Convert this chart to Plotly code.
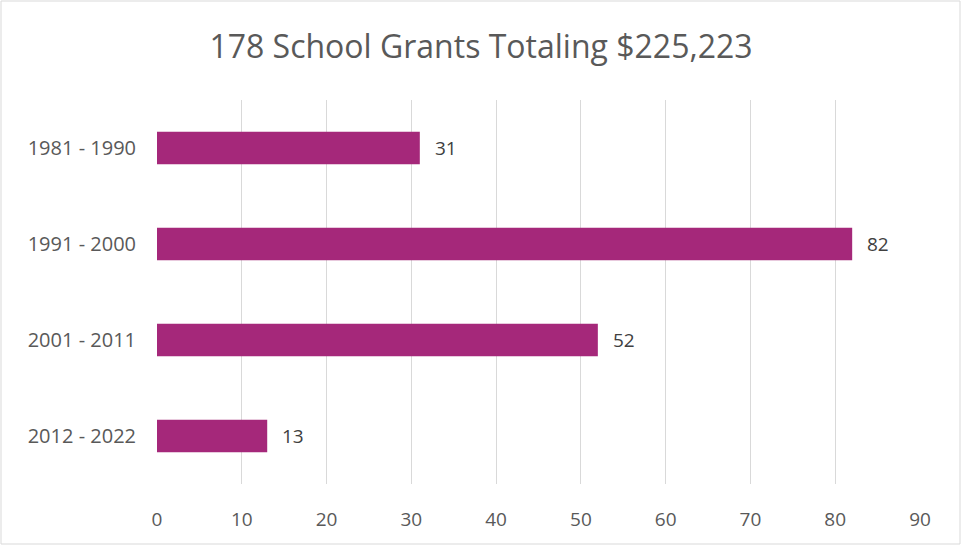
import plotly.graph_objects as go

categories = ["1981 - 1990", "1991 - 2000", "2001 - 2011", "2012 - 2022"]
grants = [31, 82, 52, 13]
x_ticks = [0, 10, 20, 30, 40, 50, 60, 70, 80, 90]
title_text = "178 School Grants Totaling $225,223"

BAR_COLOR = "#A5287A"
FONT = "Open Sans"

fig = go.Figure()
fig.add_trace(go.Bar(
    x=grants, y=categories, orientation="h",
    marker=dict(color=BAR_COLOR, line=dict(width=0)),
    width=0.34, hoverinfo="skip",
))

for c, v in zip(categories, grants):
    fig.add_annotation(x=v, y=c, text=str(v), showarrow=False,
                       xanchor="left", xshift=13,
                       font=dict(family=FONT, size=19, color="#404040"))

L, R, T, B = 157, 42, 100, 61
W, H = 962, 545
pw, ph = W - L - R, H - T - B
fig.add_shape(type="rect", xref="paper", yref="paper",
              x0=(1 - L) / pw, x1=(W - 2 - L) / pw,
              y0=-(B - 1) / ph, y1=(ph + T - 1) / ph,
              line=dict(color="#D9D9D9", width=1), fillcolor="rgba(0,0,0,0)", layer="below")

fig.update_layout(
    width=W, height=H,
    margin=dict(l=L, r=R, t=T, b=B),
    paper_bgcolor="white", plot_bgcolor="white",
    showlegend=False,
    title=dict(text=title_text, x=0.5, xref="container", xanchor="center",
               y=1 - 47 / H, yref="container", yanchor="middle",
               font=dict(family=FONT, size=32, color="#595959")),
    xaxis=dict(range=[0, 90], tickvals=x_ticks, showgrid=True, gridcolor="#D9D9D9",
               gridwidth=1, zeroline=False, showline=False,
               tickfont=dict(family=FONT, size=19, color="#595959"),
               ticklabelstandoff=22, fixedrange=True),
    yaxis=dict(categoryorder="array", categoryarray=categories, autorange="reversed",
               showgrid=False, zeroline=False, showline=False,
               tickfont=dict(family=FONT, size=20, color="#595959"),
               ticklabelstandoff=20, fixedrange=True),
)

fig.write_html("out.html")
